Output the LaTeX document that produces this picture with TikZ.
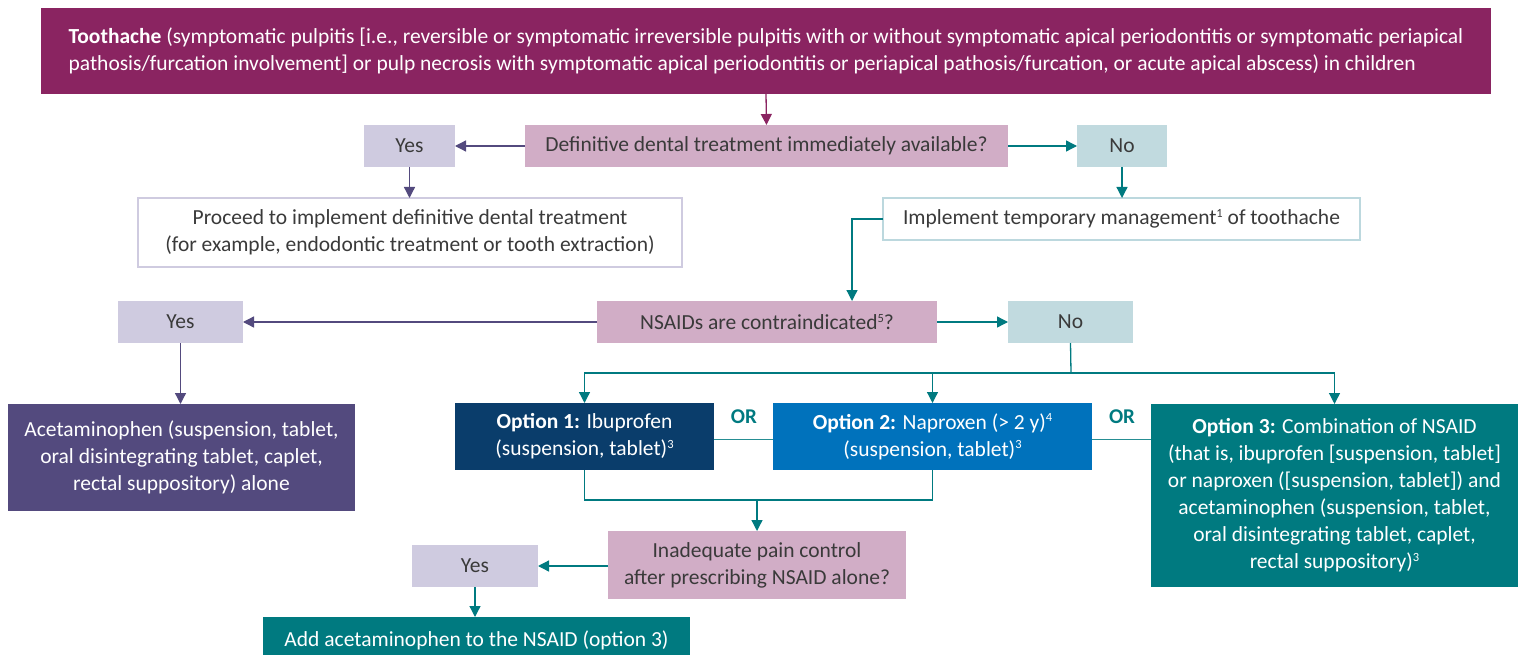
\documentclass[tikz,border=0pt]{standalone}
\usepackage{fontspec}
\setmainfont{Carlito}
\usetikzlibrary{arrows.meta}
\definecolor{cMag}{HTML}{8A2461}
\definecolor{cPink}{HTML}{D1ADC6}
\definecolor{cLav}{HTML}{CFCBE0}
\definecolor{cLteal}{HTML}{C1DADF}
\definecolor{cPurp}{HTML}{534A7E}
\definecolor{cNavy}{HTML}{0A3D6B}
\definecolor{cBlue}{HTML}{0072BC}
\definecolor{cTeal}{HTML}{007A80}
\definecolor{cText}{HTML}{3A3A3A}
\definecolor{cTealBorder}{HTML}{BCD8DE}
\newcommand{\supnum}[1]{\raisebox{0.7ex}{\fontsize{12.5}{12.5}\selectfont #1}}
\begin{document}
\begin{tikzpicture}[x=1pt,y=-1pt,
  every node/.style={inner sep=0pt, outer sep=0pt, align=center, font=\fontsize{21.5}{27}\selectfont},
  box/.style={minimum width=#1, draw=none},
  darktext/.style={text=cText},
  whitetext/.style={text=white},
  conn/.style={line width=1.3pt},
  tip/.style={-{Triangle[length=11pt,width=11pt]}},
  purpconn/.style={conn, draw=cPurp, tip},
  tealconn/.style={conn, draw=cTeal, tip},
  tealline/.style={conn, draw=cTeal},
  orline/.style={line width=1.1pt, draw=cTeal!85},
  magconn/.style={conn, draw=cMag, tip},
  orlabel/.style={text=cTeal, font=\fontsize{21}{24}\selectfont\bfseries}
]
\useasboundingbox (0,0) rectangle (1525,655);

\node[box=1450pt, minimum height=86pt, fill=cMag, whitetext, align=left] (top) at (766,51)
 {\textbf{Toothache} (symptomatic pulpitis [i.e., reversible or symptomatic irreversible pulpitis with or without symptomatic apical periodontitis or symptomatic periapical\\
 pathosis/furcation involvement] or pulp necrosis with symptomatic apical periodontitis or periapical pathosis/furcation, or acute apical abscess) in children};

\node[box=483pt, minimum height=42pt, fill=cPink, darktext] (def) at (766.5,146) {Definitive dental treatment immediately available?};
\node[box=91pt, minimum height=42pt, fill=cLav, darktext] (yes1) at (409.5,146) {Yes};
\node[box=90pt, minimum height=42pt, fill=cLteal, darktext] (no1) at (1122,146) {No};
\node[box=544pt, minimum height=69pt, draw=cLav, line width=1.2pt, fill=white, darktext] (proceed) at (410,232.5)
 {Proceed to implement definitive dental treatment\\(for example, endodontic treatment or tooth extraction)};
\node[box=477pt, minimum height=42pt, draw=cTealBorder, line width=1.2pt, fill=white, darktext] (impl) at (1121.5,219)
 {Implement temporary management\supnum{1} of toothache};

\node[box=340pt, minimum height=42pt, fill=cPink, darktext] (nsaid) at (767,322) {NSAIDs are contraindicated\supnum{5}?};
\node[box=125pt, minimum height=42pt, fill=cLav, darktext] (yes2) at (180.5,322) {Yes};
\node[box=125pt, minimum height=42pt, fill=cLteal, darktext] (no2) at (1070.5,322) {No};

\node[box=347pt, minimum height=107pt, fill=cPurp, whitetext] (acet) at (181.5,457.5)
 {Acetaminophen (suspension, tablet,\\oral disintegrating tablet, caplet,\\rectal suppository) alone};
\node[box=259pt, minimum height=67pt, fill=cNavy, whitetext] (opt1) at (584.5,436.5)
 {\textbf{Option 1:} Ibuprofen\\(suspension, tablet)\supnum{3}};
\node[box=319pt, minimum height=67pt, fill=cBlue, whitetext] (opt2) at (932.5,436.5)
 {\textbf{Option 2:} Naproxen (> 2 y)\supnum{4}\\(suspension, tablet)\supnum{3}};
\node[box=367pt, minimum height=183pt, fill=cTeal, whitetext] (opt3) at (1334.5,495.5)
 {\textbf{Option 3:} Combination of NSAID\\(that is, ibuprofen [suspension, tablet]\\or naproxen ([suspension, tablet]) and\\acetaminophen (suspension, tablet,\\oral disintegrating tablet, caplet,\\rectal suppository)\supnum{3}};
\node[orlabel] (or1) at (744,417) {OR};
\node[orlabel] (or2) at (1122,417) {OR};

\node[box=298pt, minimum height=68pt, fill=cPink, darktext] (inadeq) at (757,565)
 {Inadequate pain control\\after prescribing NSAID alone?};
\node[box=126pt, minimum height=42pt, fill=cLav, darktext] (yes3) at (475,566) {Yes};
\node[box=427pt, minimum height=46pt, fill=cTeal, whitetext] (add) at (476.5,640) {Add acetaminophen to the NSAID (option 3)};

\coordinate (bus) at (1071,373);
\coordinate (join) at (757,500);

\draw[magconn] (top.south) -- (def.north);
\draw[purpconn] (def.west) -- (yes1.east);
\draw[tealconn] (def.east) -- (no1.west);
\draw[purpconn] (yes1.south) -- (yes1.south |- proceed.north);
\draw[tealconn] (no1.south) -- (no1.south |- impl.north);
\draw[tealconn] (impl.west) -| ([xshift=85pt]nsaid.north);
\draw[purpconn] (nsaid.west) -- (yes2.east);
\draw[tealconn] (nsaid.east) -- (no2.west);
\draw[tealline] (no2.south) -- (bus);
\draw[tealconn] (bus) -| (opt1.north);
\draw[tealconn] (bus) -| (opt3.north);
\draw[tealconn] (opt2.north |- bus) -- (opt2.north);
\draw[purpconn] (yes2.south) -- (yes2.south |- acet.north);
\draw[orline] ([yshift=-3pt]opt1.east) -- ([yshift=-3pt]opt2.west);
\draw[orline] ([yshift=-3pt]opt2.east) -- ([yshift=-3pt]opt2.east -| opt3.west);
\draw[tealline] (opt1.south) -- (opt1.south |- join) -| (opt2.south);
\draw[tealconn] (join) -- (inadeq.north);
\draw[tealconn] (inadeq.west |- yes3.east) -- (yes3.east);
\draw[tealconn] (yes3.south) -- (yes3.south |- add.north);
\end{tikzpicture}
\end{document}
